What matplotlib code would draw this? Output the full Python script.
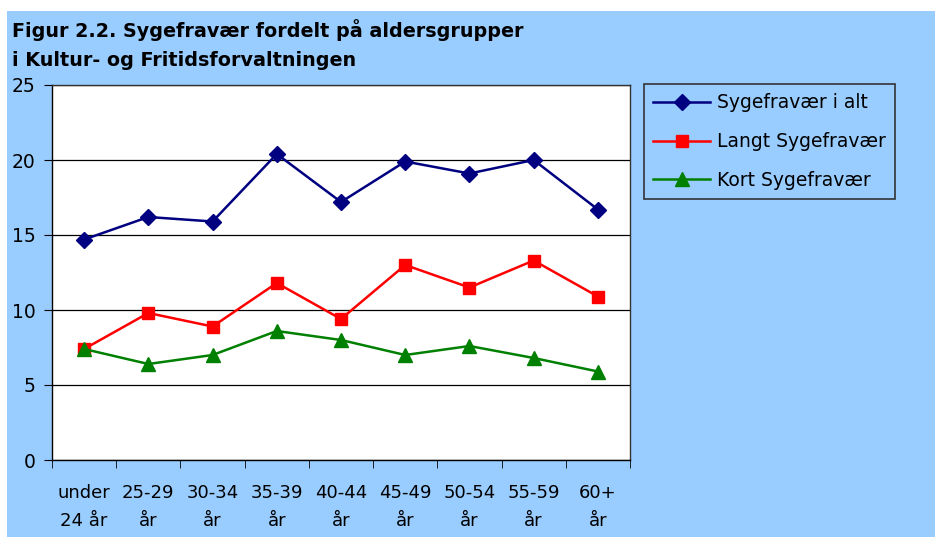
import numpy as np
import matplotlib.pyplot as plt

plt.rcParams['font.family'] = ['DejaVu Sans']

# data
groups = ['under\n24 år', '25-29\når', '30-34\når', '35-39\når', '40-44\når',
          '45-49\når', '50-54\når', '55-59\når', '60+\når']
total = [14.7, 16.2, 15.9, 20.4, 17.2, 19.9, 19.1, 20.0, 16.7]
long_term = [7.4, 9.8, 8.9, 11.8, 9.4, 13.0, 11.5, 13.3, 10.9]
short_term = [7.4, 6.4, 7.0, 8.6, 8.0, 7.0, 7.6, 6.8, 5.9]

BG = '#99ccff'

fig = plt.figure(figsize=(9.35, 5.37), dpi=100, facecolor='white')
# blue chart area with a thin white margin at top/left
fig.patches.append(plt.Rectangle((7 / 935, 0), 1, 1 - 11 / 537,
                                 transform=fig.transFigure, facecolor=BG,
                                 edgecolor='none', zorder=-10))

ax = fig.add_axes([52 / 935, 77 / 537, 578 / 935, 375 / 537])
ax.set_facecolor('white')

x = np.arange(len(groups))
ax.plot(x, total, color='#000080', lw=1.8, marker='D', ms=8, label='Sygefravær i alt')
ax.plot(x, long_term, color='#ff0000', lw=1.8, marker='s', ms=9, label='Langt Sygefravær')
ax.plot(x, short_term, color='#008000', lw=1.8, marker='^', ms=10, label='Kort Sygefravær')

ax.set_xlim(-0.5, len(groups) - 0.5)
ax.set_ylim(0, 25)
ax.set_yticks([0, 5, 10, 15, 20, 25])
ax.yaxis.grid(True, color='black', lw=0.9)
ax.set_axisbelow(True)

# category labels centred, tick marks between categories
ax.set_xticks(x)
ax.set_xticklabels(groups, fontsize=13, linespacing=1.75)
ax.tick_params(axis='x', which='major', length=0, pad=17)
ax.set_xticks(np.arange(-0.5, len(groups)), minor=True)
ax.tick_params(axis='x', which='minor', length=6, direction='out', color='black')
ax.tick_params(axis='y', labelsize=13.5, length=6, color='black', pad=6)

for s in ax.spines.values():
    s.set_color('#333333')
    s.set_linewidth(1.0)
ax.spines['left'].set_color('black')
ax.spines['bottom'].set_color('black')

fig.text(12 / 935, 1 - 30 / 537, 'Figur 2.2. Sygefravær fordelt på aldersgrupper',
         fontsize=13.8, fontweight='bold', va='center', ha='left')
fig.text(12 / 935, 1 - 61 / 537, 'i Kultur- og Fritidsforvaltningen',
         fontsize=13.8, fontweight='bold', va='center', ha='left')

leg = ax.legend(loc='upper left', bbox_to_anchor=(644 / 935, 1 - 84 / 537),
                bbox_transform=fig.transFigure, fontsize=13.5, frameon=True,
                fancybox=False, facecolor=BG, edgecolor='#333333',
                borderpad=0.5, labelspacing=1.05, handlelength=3.0,
                handletextpad=0.4, borderaxespad=0)
leg.get_frame().set_linewidth(1.2)
leg.get_frame().set_alpha(1)

fig.savefig('out.png', dpi=100, facecolor=fig.get_facecolor())
